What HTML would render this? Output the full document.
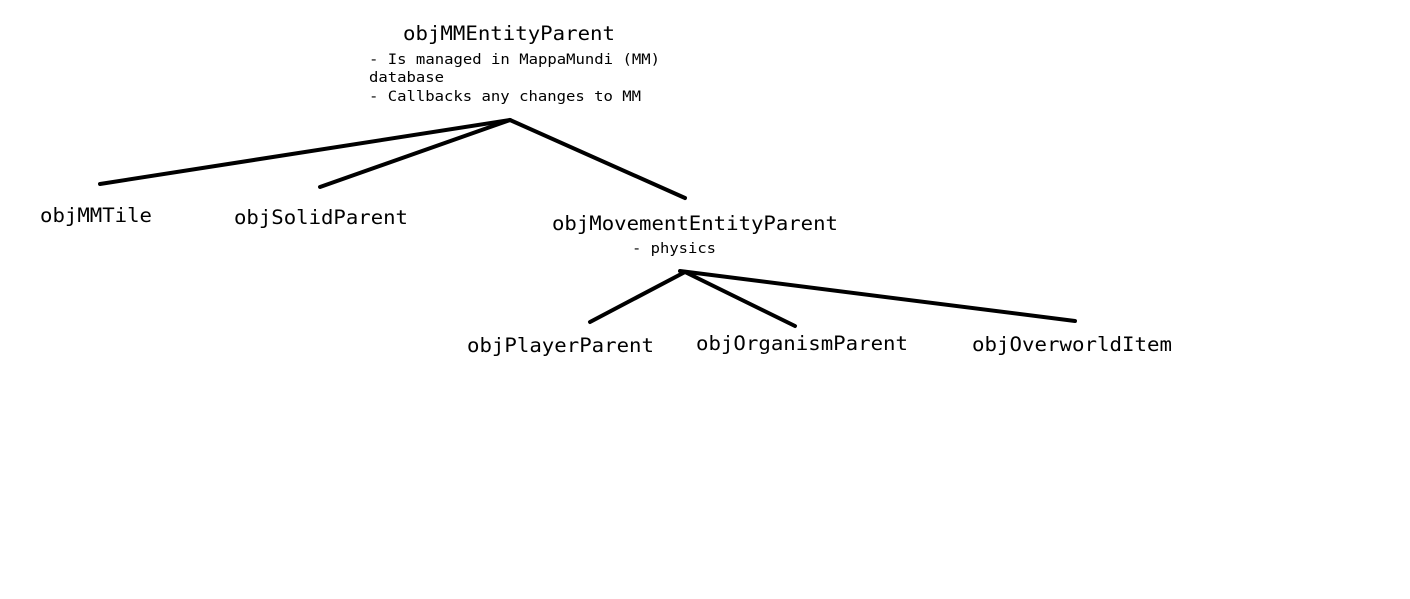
<!DOCTYPE html>
<html><head><style>html,body{margin:0;padding:0;background:#fff;width:1410px;height:599px;overflow:hidden}</style></head>
<body>
<svg width="1410" height="599" xmlns="http://www.w3.org/2000/svg" font-family="'DejaVu Sans Mono', 'Liberation Mono', monospace" fill="#000">
<g stroke="#000" stroke-width="4" stroke-linecap="round" fill="none">
<line x1="100" y1="184" x2="510" y2="120"/>
<line x1="320" y1="187" x2="510" y2="120"/>
<line x1="510" y1="120" x2="685" y2="198"/>
<line x1="590" y1="322" x2="685" y2="272"/>
<line x1="685" y1="272" x2="795" y2="326"/>
<line x1="680" y1="271" x2="1075" y2="321"/>
</g>
<text x="403" y="40" font-size="19.5" textLength="212" lengthAdjust="spacingAndGlyphs">objMMEntityParent</text>
<g font-size="14.5">
<text x="369" y="64" textLength="291" lengthAdjust="spacingAndGlyphs">- Is managed in MappaMundi (MM)</text>
<text x="369" y="82" textLength="75" lengthAdjust="spacingAndGlyphs">database</text>
<text x="369" y="101" textLength="272" lengthAdjust="spacingAndGlyphs">- Callbacks any changes to MM</text>
<text x="632" y="253" textLength="84" lengthAdjust="spacingAndGlyphs">- physics</text>
</g>
<g font-size="19.5">
<text x="40" y="222" textLength="112" lengthAdjust="spacingAndGlyphs">objMMTile</text>
<text x="234" y="224" textLength="174" lengthAdjust="spacingAndGlyphs">objSolidParent</text>
<text x="552" y="230" textLength="286" lengthAdjust="spacingAndGlyphs">objMovementEntityParent</text>
<text x="467" y="352" textLength="187" lengthAdjust="spacingAndGlyphs">objPlayerParent</text>
<text x="696" y="350" textLength="212" lengthAdjust="spacingAndGlyphs">objOrganismParent</text>
<text x="972" y="351" textLength="200" lengthAdjust="spacingAndGlyphs">objOverworldItem</text>
</g>
</svg>
</body></html>
